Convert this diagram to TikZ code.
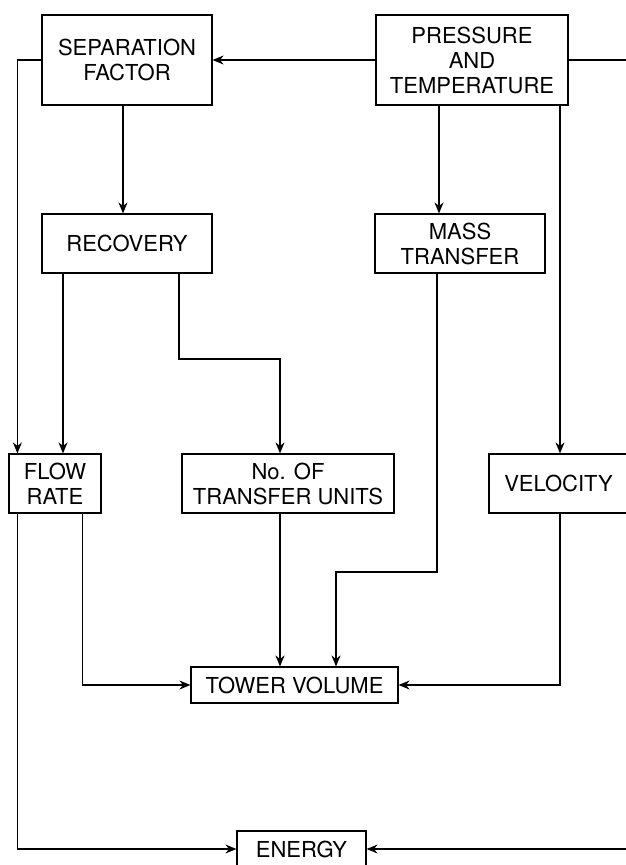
\documentclass[tikz,border=0pt]{standalone}
\usepackage{fontspec}
\setmainfont{TeX Gyre Heros}
\usepackage{tikz}
\usetikzlibrary{arrows.meta,positioning,calc}

\tikzset{
  blockbox/.style={draw, line width=1.2pt, align=center, inner sep=0pt, font=\fontsize{22}{25}\selectfont},
  flowline/.style={line width=1.2pt}
}

\begin{document}
\begin{tikzpicture}[x=1pt, y=-1pt, >={Stealth[length=11pt, width=9pt]}]
    \useasboundingbox (0,0) rectangle (626,865);

    % Nodes
    \node[blockbox, minimum width=170, minimum height=90] (sep) at (127, 60) {SEPARATION\\FACTOR};
    \node[blockbox, minimum width=192, minimum height=90] (press) at (472, 60) {PRESSURE\\AND\\TEMPERATURE};
    \node[blockbox, minimum width=170, minimum height=59] (rec) at (127, 243.5) {RECOVERY};
    \node[blockbox, minimum width=170, minimum height=59] (mass) at (460, 243.5) {MASS\\TRANSFER};
    \node[blockbox, minimum width=92, minimum height=59] (flow) at (55, 483.5) {FLOW\\RATE};
    \node[blockbox, minimum width=212, minimum height=59] (ntu) at (288, 483.5) {No. OF\\TRANSFER UNITS};
    \node[blockbox, minimum width=139, minimum height=59] (vel) at (558.5, 483.5) {VELOCITY};
    \node[blockbox, minimum width=207, minimum height=36] (tower) at (294.5, 685) {TOWER VOLUME};
    \node[blockbox, minimum width=129, minimum height=36] (energy) at (301.5, 849) {ENERGY};

    % Top row
    \draw[flowline, ->] (press.west) -- (sep.east);
    \draw[flowline, ->] (sep.west) -| ([xshift=9]flow.north west);
    \draw[flowline, ->] ([xshift=-4]sep.south) -- ([xshift=-4]rec.north);
    \draw[flowline, ->] ([xshift=-33]press.south) -- ([xshift=-21]mass.north);
    \draw[flowline, ->] ([xshift=88]press.south) -- ([xshift=1.5]vel.north);
    \draw[flowline, ->] (press.east) -| (640, 849) -- (energy.east);

    % Middle row
    \draw[flowline, ->] ([xshift=-64]rec.south) -- ([xshift=8]flow.north);
    \draw[flowline, ->] ([xshift=52]rec.south) |- (280, 359) -- ([xshift=-8]ntu.north);

    % Into tower volume and energy
    \draw[flowline, ->] ([xshift=9]flow.south west) |- (energy.west);
    \draw[flowline, ->] ([xshift=-19]flow.south east) |- (tower.west);
    \draw[flowline, ->] ([xshift=-8]ntu.south) -- ([xshift=-14.5]tower.north);
    \draw[flowline, ->] ([xshift=-23]mass.south) |- (336, 572) -- ([xshift=41.5]tower.north);
    \draw[flowline, ->] ([xshift=1.5]vel.south) |- (tower.east);
\end{tikzpicture}
\end{document}
